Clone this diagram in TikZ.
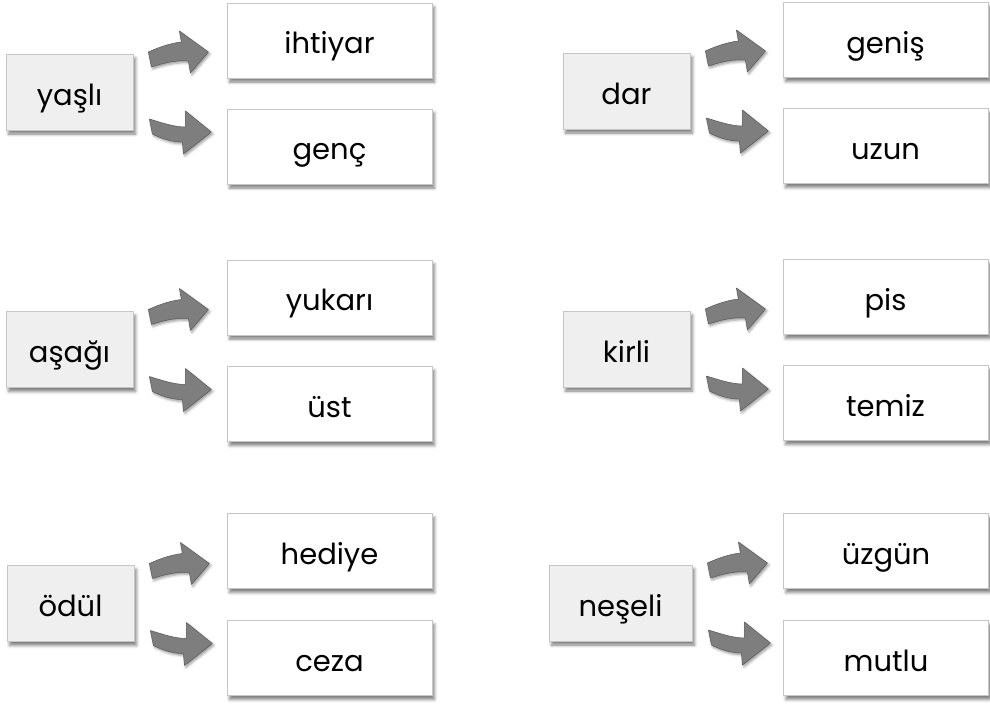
\documentclass[tikz,border=0pt]{standalone}
\usepackage{fontspec}
\setmainfont{Poppins}
\usetikzlibrary{shadows.blur}

\definecolor{boxline}{HTML}{C6C6C6}
\definecolor{srcfill}{HTML}{EFEFEF}
\definecolor{arrowgray}{HTML}{7E7E7E}

\begin{document}
\begin{tikzpicture}[x=1pt, y=-1pt,
  card/.style={draw=boxline, line width=0.8pt, font=\fontsize{29}{32}\selectfont,
    text height=30pt, text depth=4pt,
    blur shadow={shadow xshift=2.5pt, shadow yshift=-4pt, shadow blur radius=3pt, shadow opacity=50}},
  word/.style={card, fill=srcfill, minimum width=127pt, minimum height=76pt},
  pick/.style={card, fill=white, minimum width=205pt, minimum height=75pt},
  curvearrow/.style={fill=arrowgray, draw=arrowgray!70!black, line width=0.5pt, line join=round,
    blur shadow={shadow xshift=1.5pt, shadow yshift=-2pt, shadow blur radius=2.5pt, shadow opacity=40}}]

\useasboundingbox (0,0) rectangle (990,704);

\def\bendup{(15,-40) .. controls (28,-46) and (39,-49) .. (48,-50) -- (46,-61) -- (75,-40)
  -- (57,-19) -- (55,-31) .. controls (42,-32) and (30,-29) .. (18,-25) -- cycle}
\def\benddown{(16,27) .. controls (29,31) and (41,35) .. (52,35) -- (52,19) -- (78,40)
  -- (50,62) -- (49,50) .. controls (37,50) and (27,46) .. (19,42) -- cycle}

% first row
\node[word] (yasli) at (69.5,92) {yaşlı};
\node[pick] (ihtiyar) at (329.5,40.5) {ihtiyar};
\node[pick] (genc) at (329.5,146.5) {genç};

\node[word] (dar) at (626.5,91) {dar};
\node[pick] (genis) at (885.5,40) {geniş};
\node[pick] (uzun) at (885.5,146) {uzun};

% second row
\node[word] (asagi) at (69.5,349.5) {aşağı};
\node[pick] (yukari) at (329.5,297.5) {yukarı};
\node[pick] (ust) at (329.5,404) {üst};

\node[word] (kirli) at (626.5,349) {kirli};
\node[pick] (pis) at (885.5,297) {pis};
\node[pick] (temiz) at (885.5,403) {temiz};

% third row
\node[word] (odul) at (70.5,603.5) {ödül};
\node[pick] (hediye) at (329.5,551) {hediye};
\node[pick] (ceza) at (329.5,658) {ceza};

\node[word, minimum width=143pt] (neseli) at (620.5,603) {neşeli};
\node[pick] (uzgun) at (886,551) {üzgün};
\node[pick] (mutlu) at (886,658) {mutlu};

\foreach \n in {yasli,dar,asagi,kirli,odul,neseli}{
  \filldraw[curvearrow, shift={(\n.east)}] \bendup;
  \filldraw[curvearrow, shift={(\n.east)}] \benddown;
}

\end{tikzpicture}
\end{document}
